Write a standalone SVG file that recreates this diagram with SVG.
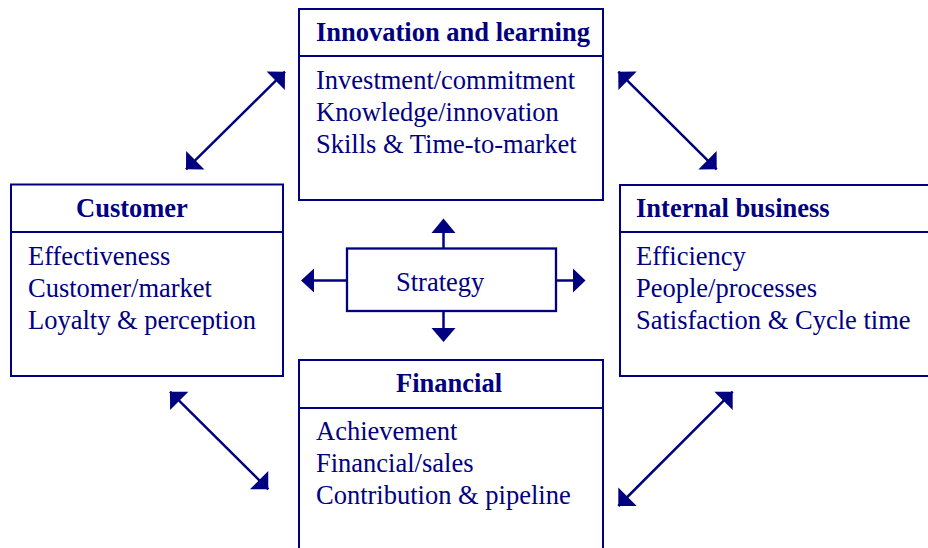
<svg xmlns="http://www.w3.org/2000/svg" width="928" height="548" viewBox="0 0 928 548">
  <style>
    .box { fill: #ffffff; stroke: #000080; stroke-width: 2; }
    .div { stroke: #000080; stroke-width: 2; }
    .title { font-family: "Liberation Serif", "Times New Roman", serif; font-size: 26.5px; font-weight: bold; fill: #000080; }
    .item { font-family: "Liberation Serif", "Times New Roman", serif; font-size: 26.5px; fill: #000080; }
    .link { stroke: #000080; stroke-width: 2.5; fill: none; }
    .stub { stroke: #000080; stroke-width: 2.5; fill: none; }
    .head { fill: #000080; }
  </style>
  <defs>
    <!-- right-angled arrowhead, tip at the path end -->
    <marker id="tip" markerUnits="userSpaceOnUse" markerWidth="30" markerHeight="30" viewBox="-15 -15 30 30" refX="0" refY="0" orient="auto-start-reverse">
      <path d="M0,0 L-13,-13 L-13,13 Z" fill="#000080"/>
    </marker>
  </defs>
  <rect width="928" height="548" fill="#ffffff"/>

  <!-- perspective boxes -->
  <g id="innovation">
    <rect class="box" x="299" y="9" width="304" height="191"/>
    <line class="div" x1="299" y1="56" x2="603" y2="56"/>
    <text class="title" x="316" y="41">Innovation and learning</text>
    <text class="item" x="316" y="89">Investment/commitment</text>
    <text class="item" x="316" y="121">Knowledge/innovation</text>
    <text class="item" x="316" y="153">Skills &amp; Time-to-market</text>
  </g>

  <g id="customer">
    <rect class="box" x="11" y="184.5" width="272" height="191.5"/>
    <line class="div" x1="11" y1="232" x2="283" y2="232"/>
    <text class="title" x="76" y="217">Customer</text>
    <text class="item" x="28" y="265">Effectiveness</text>
    <text class="item" x="28" y="297">Customer/market</text>
    <text class="item" x="28" y="329">Loyalty &amp; perception</text>
  </g>

  <g id="internal">
    <rect class="box" x="620" y="185" width="320" height="191"/>
    <line class="div" x1="620" y1="232" x2="940" y2="232"/>
    <text class="title" x="636" y="217">Internal business</text>
    <text class="item" x="636" y="265">Efficiency</text>
    <text class="item" x="636" y="297">People/processes</text>
    <text class="item" x="636" y="329">Satisfaction &amp; Cycle time</text>
  </g>

  <g id="financial">
    <rect class="box" x="299" y="360" width="304" height="200"/>
    <line class="div" x1="299" y1="408" x2="603" y2="408"/>
    <text class="title" x="396" y="392">Financial</text>
    <text class="item" x="316" y="440">Achievement</text>
    <text class="item" x="316" y="472">Financial/sales</text>
    <text class="item" x="316" y="504">Contribution &amp; pipeline</text>
  </g>

  <g id="strategy">
    <rect class="box" x="347" y="248.5" width="209" height="62.5" style="stroke-width:2.3"/>
    <text class="item" x="396" y="291">Strategy</text>
  </g>

  <!-- connectors -->
  <g id="connectors">
    <!-- strategy outputs -->
    <line class="stub" x1="443.5" y1="248" x2="443.5" y2="233"/>
    <polygon class="head" points="431.5,233 455.5,233 443.5,218.5"/>
    <line class="stub" x1="443.5" y1="311" x2="443.5" y2="328"/>
    <polygon class="head" points="431.5,328 455.5,328 443.5,342"/>
    <line class="stub" x1="347" y1="280.5" x2="314" y2="280.5"/>
    <polygon class="head" points="314,268.5 314,292.5 301,280.5"/>
    <line class="stub" x1="556" y1="280.5" x2="573" y2="280.5"/>
    <polygon class="head" points="573,268.5 573,292.5 585.5,280.5"/>

    <!-- two-way links between neighbouring perspectives -->
    <line class="link" x1="186" y1="169.3" x2="285" y2="71.7" marker-start="url(#tip)" marker-end="url(#tip)"/>
    <line class="link" x1="618.3" y1="71.7" x2="716.7" y2="169.3" marker-start="url(#tip)" marker-end="url(#tip)"/>
    <line class="link" x1="170" y1="391.7" x2="268.3" y2="489.3" marker-start="url(#tip)" marker-end="url(#tip)"/>
    <line class="link" x1="618.3" y1="506" x2="732.7" y2="391.7" marker-start="url(#tip)" marker-end="url(#tip)"/>
  </g>
</svg>
